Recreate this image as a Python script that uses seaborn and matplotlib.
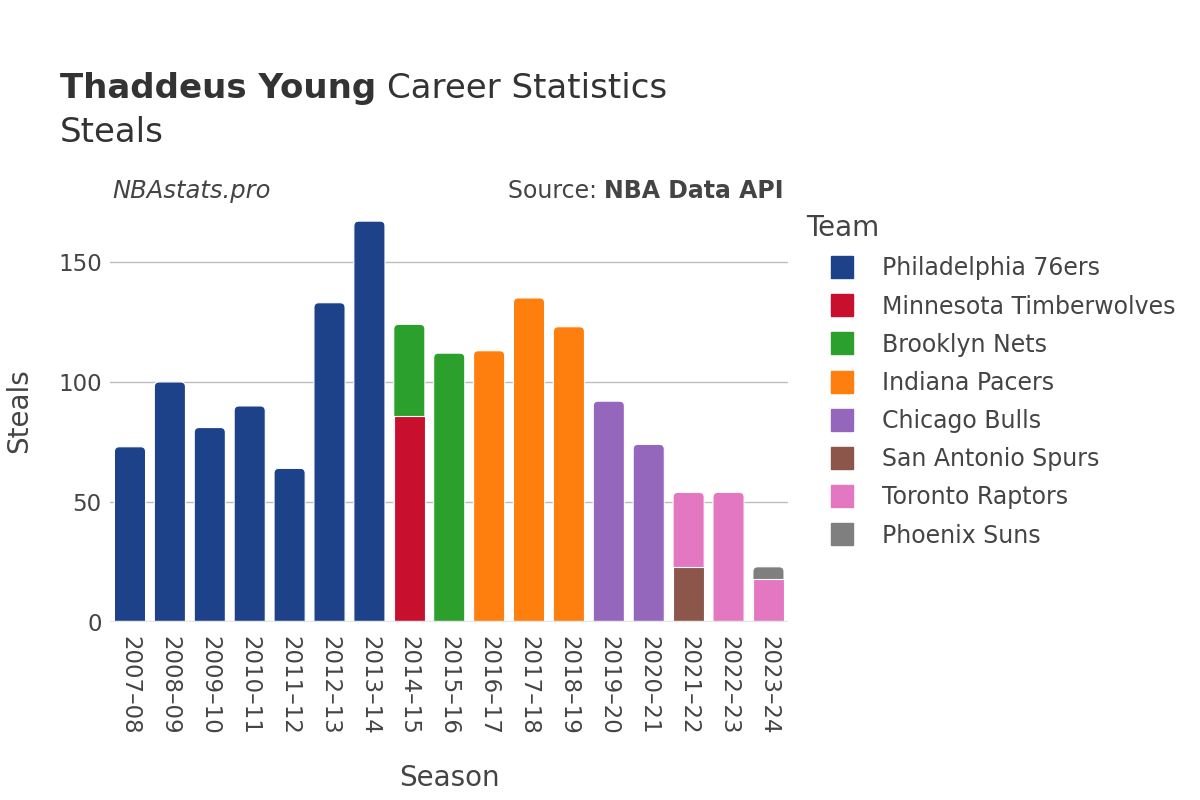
import pandas as pd
import seaborn as sns
from matplotlib import pyplot as plt
from matplotlib.patches import FancyBboxPatch
from matplotlib.lines import Line2D


seasons = ["2007–08", "2008–09", "2009–10", "2010–11", "2011–12", "2012–13",
           "2013–14", "2014–15", "2014–15", "2015–16", "2016–17", "2017–18",
           "2018–19", "2019–20", "2020–21", "2021–22", "2021–22", "2022–23",
           "2023–24", "2023–24"]
teams = ["Philadelphia 76ers"] * 7 + ["Minnesota Timberwolves", "Brooklyn Nets",
         "Brooklyn Nets", "Indiana Pacers", "Indiana Pacers", "Indiana Pacers",
         "Chicago Bulls", "Chicago Bulls", "San Antonio Spurs", "Toronto Raptors",
         "Toronto Raptors", "Toronto Raptors", "Phoenix Suns"]
steals = [73, 100, 81, 90, 64, 133, 167, 86, 38, 112, 113, 135, 123, 92, 74,
          23, 31, 54, 18, 5]

team_order = ["Philadelphia 76ers", "Minnesota Timberwolves", "Brooklyn Nets",
              "Indiana Pacers", "Chicago Bulls", "San Antonio Spurs",
              "Toronto Raptors", "Phoenix Suns"]
team_colors = ["#1D428A", "#C8102E", "#2CA02C", "#FF7F0E", "#9467BD",
               "#8C564B", "#E377C2", "#7F7F7F"]

df = pd.DataFrame({"Season": seasons, "Team": teams, "Steals": steals})
df["rank"] = df["Team"].map(team_order.index)
df = df.sort_values(["Season", "rank"])
df["top"] = df.groupby("Season")["Steals"].cumsum()
season_order = list(dict.fromkeys(seasons))
totals = df.groupby("Season")["Steals"].sum()

sns.set_theme(style="white")
plt.rcParams["font.family"] = ["DejaVu Sans"]
text_c = "#444444"
title_c = "#333333"

fig = plt.figure(figsize=(12, 8), dpi=100)
ax = fig.add_axes([0.0917, 0.2225, 0.5653, 0.5275])

# stacked bars: draw cumulative heights, upper teams first
for team, color in reversed(list(zip(team_order, team_colors))):
    sub = df[df["Team"] == team]
    sns.barplot(data=sub, x="Season", y="top", order=season_order, color=color,
                width=0.78, saturation=1, edgecolor="white", linewidth=0.8,
                errorbar=None, ax=ax)

# round the top corners of each stack
rx, ry = 0.12, 2.0
for p in list(ax.patches):
    h = p.get_height()
    if h != h or h == 0:
        continue
    i = int(round(p.get_x() + p.get_width() / 2))
    if abs(h - totals[season_order[i]]) < 1e-6:
        rp = FancyBboxPatch((p.get_x(), -ry), p.get_width(), h + ry,
                            boxstyle=f"round,pad=0,rounding_size={rx}",
                            mutation_aspect=ry / rx, facecolor=p.get_facecolor(),
                            edgecolor="white", linewidth=0.8, zorder=1)
        p.remove()
        ax.add_patch(rp)
    else:
        p.set_zorder(2)

ax.set_xlim(-0.5, len(season_order) - 0.5)
ax.set_ylim(0, 175.8)
ax.set_yticks([0, 50, 100, 150])
ax.yaxis.grid(True, color="#bdbdbd", linewidth=1)
ax.set_axisbelow(True)
ax.axhline(0, color="#e6e6e6", linewidth=2.5, zorder=3)
for s in ax.spines.values():
    s.set_visible(False)
ax.tick_params(axis="y", length=0, pad=6, labelsize=16.5, labelcolor=text_c)
ax.tick_params(axis="x", length=0, pad=10, labelsize=16.5, labelcolor=text_c,
               rotation=-90)
ax.set_xlabel("Season", fontsize=20, color=text_c, labelpad=21)
ax.set_ylabel("Steals", fontsize=20, color=text_c, labelpad=18)

# titles: place the pieces side by side using their rendered widths
r = fig.canvas.get_renderer()
t1 = fig.text(0.05, 0.878, "Thaddeus Young", fontsize=24.5, fontweight="bold",
              color=title_c, ha="left", va="baseline")
w1 = t1.get_window_extent(r).width / fig.bbox.width
fig.text(0.05 + w1 + 0.009, 0.878, "Career Statistics", fontsize=24.5,
         color=title_c, ha="left", va="baseline")
fig.text(0.05, 0.823, "Steals", fontsize=24.5, color=title_c, ha="left",
         va="baseline")
fig.text(0.094, 0.752, "NBAstats.pro", fontsize=17.5, style="italic",
         color=text_c, ha="left", va="baseline")
t2 = fig.text(0.653, 0.752, "NBA Data API", fontsize=17, fontweight="bold",
              color=text_c, ha="right", va="baseline")
w2 = t2.get_window_extent(r).width / fig.bbox.width
fig.text(0.653 - w2, 0.752, "Source: ", fontsize=17, color=text_c,
         ha="right", va="baseline")

handles = [Line2D([], [], marker="s", linestyle="", markersize=16,
                  markerfacecolor=c, markeredgecolor=c) for c in team_colors]
leg = fig.legend(handles, team_order, title="Team", loc="upper left",
                 bbox_to_anchor=(0.662, 0.747), frameon=False, fontsize=17,
                 title_fontsize=20, handlelength=3.05, handletextpad=0.17,
                 labelspacing=0.6, borderpad=0, alignment="left",
                 labelcolor=text_c)
leg.get_title().set_color(text_c)

plt.savefig("out.png")
plt.close()
